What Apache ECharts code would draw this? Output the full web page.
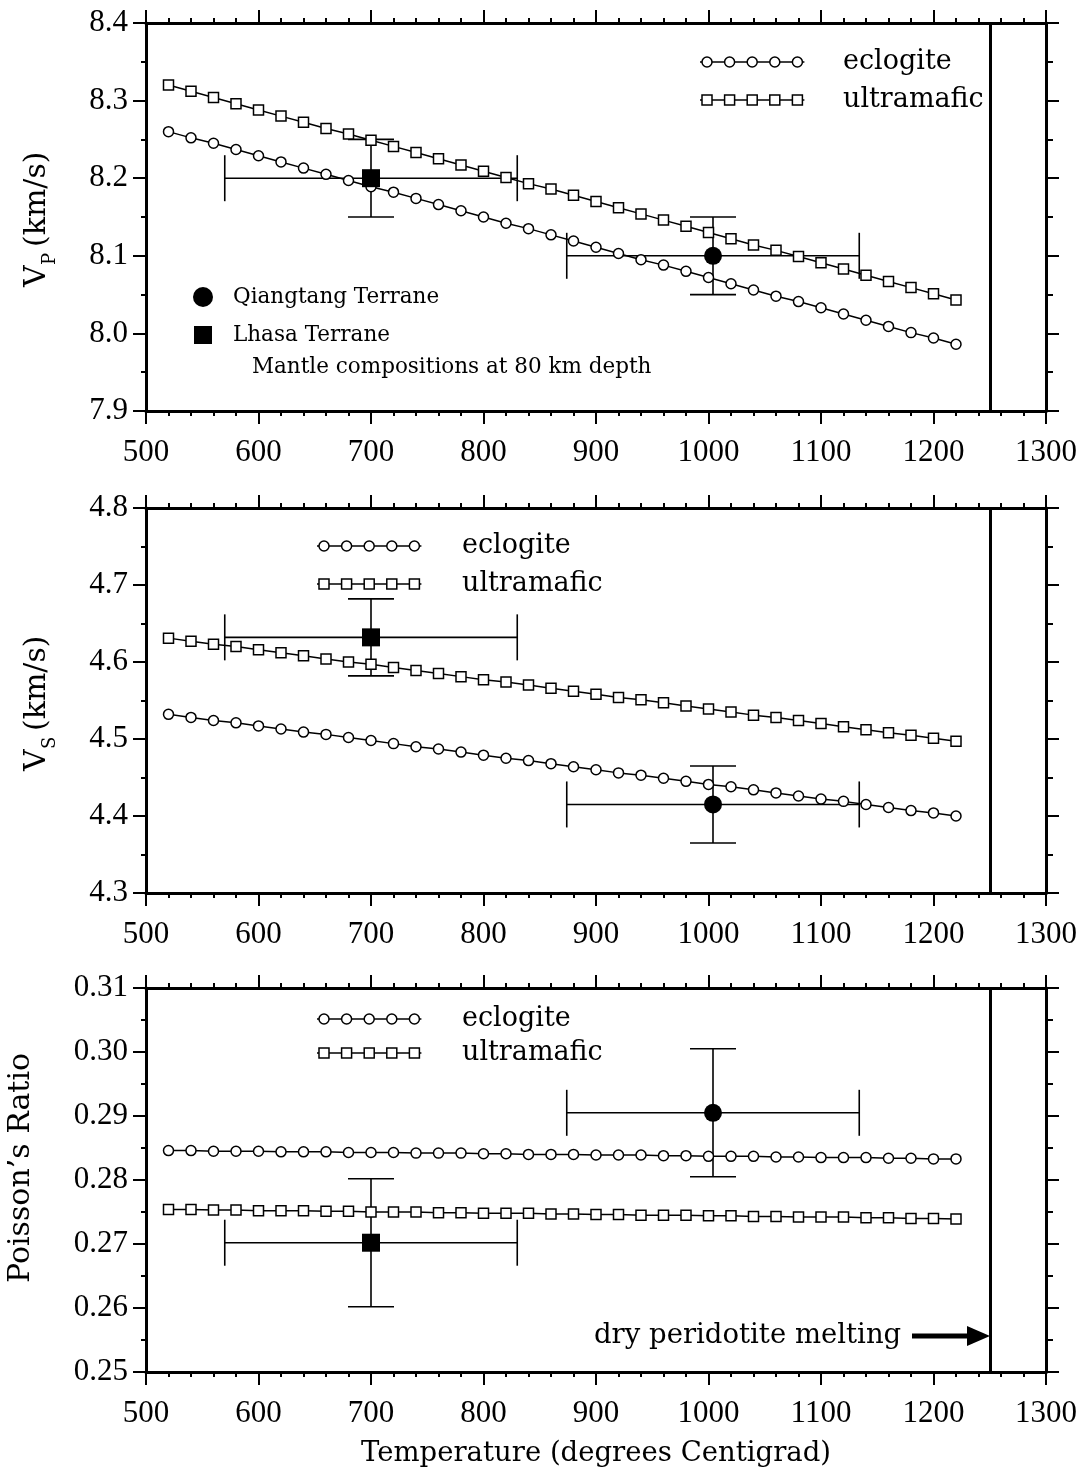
<!DOCTYPE html>
<html>
<head>
<meta charset="utf-8">
<script src="https://cdn.jsdelivr.net/npm/echarts@6/dist/echarts.min.js"></script>
<style>html,body{margin:0;padding:0;background:#fff}#c{width:1086px;height:1475px}</style>
</head>
<body>
<div id="c"></div>
<script>
// ---------------- data ----------------
const temperatures = [520,540,560,580,600,620,640,660,680,700,720,740,760,780,800,820,840,860,880,900,920,940,960,980,1000,1020,1040,1060,1080,1100,1120,1140,1160,1180,1200,1220];

const vpEclogite = [8.260,8.252,8.245,8.237,8.229,8.221,8.213,8.205,8.197,8.189,8.182,8.174,8.166,8.158,8.150,8.142,8.135,8.127,8.119,8.111,8.103,8.095,8.088,8.080,8.072,8.064,8.056,8.048,8.041,8.033,8.025,8.017,8.009,8.001,7.994,7.986];
const vpUltramafic = [8.320,8.312,8.304,8.296,8.288,8.280,8.272,8.264,8.257,8.249,8.241,8.233,8.225,8.217,8.209,8.201,8.193,8.186,8.178,8.170,8.162,8.154,8.146,8.138,8.130,8.122,8.114,8.107,8.099,8.091,8.083,8.075,8.067,8.059,8.051,8.043];

const vsEclogite = [4.532,4.528,4.524,4.521,4.517,4.513,4.509,4.506,4.502,4.498,4.494,4.490,4.487,4.483,4.479,4.475,4.472,4.468,4.464,4.460,4.456,4.453,4.449,4.445,4.441,4.438,4.434,4.430,4.426,4.422,4.419,4.415,4.411,4.407,4.404,4.400];
const vsUltramafic = [4.631,4.627,4.623,4.620,4.616,4.612,4.608,4.604,4.600,4.597,4.593,4.589,4.585,4.581,4.577,4.574,4.570,4.566,4.562,4.558,4.554,4.551,4.547,4.543,4.539,4.535,4.531,4.528,4.524,4.520,4.516,4.512,4.508,4.505,4.501,4.497];

const prEclogite = [0.2846,0.2846,0.2845,0.2845,0.2845,0.2844,0.2844,0.2844,0.2843,0.2843,0.2843,0.2842,0.2842,0.2842,0.2841,0.2841,0.2840,0.2840,0.2840,0.2839,0.2839,0.2839,0.2838,0.2838,0.2837,0.2837,0.2837,0.2836,0.2836,0.2835,0.2835,0.2835,0.2834,0.2834,0.2833,0.2833];
const prUltramafic = [0.2754,0.2754,0.2753,0.2753,0.2752,0.2752,0.2752,0.2751,0.2751,0.2750,0.2750,0.2750,0.2749,0.2749,0.2748,0.2748,0.2748,0.2747,0.2747,0.2746,0.2746,0.2745,0.2745,0.2745,0.2744,0.2744,0.2743,0.2743,0.2742,0.2742,0.2742,0.2741,0.2741,0.2740,0.2740,0.2739];

// observed terranes: [Qiangtang, Lhasa]
const siteNames = ['Qiangtang Terrane', 'Lhasa Terrane'];
const siteT = [1004, 700];
const siteTErr = [130, 130];
const siteVp = [8.10, 8.20];
const siteVpErr = [0.05, 0.05];
const siteVs = [4.415, 4.632];
const siteVsErr = [0.05, 0.05];
const sitePr = [0.2905, 0.2702];
const sitePrErr = [0.01, 0.01];
const siteSymbols = ['circle', 'rect'];

const meltingT = 1250;

const xTicks = {min: 500, max: 1300, interval: 100};
const yRanges = [
  {min: 7.9, max: 8.4, interval: 0.1, dec: 1},
  {min: 4.3, max: 4.8, interval: 0.1, dec: 1},
  {min: 0.25, max: 0.31, interval: 0.01, dec: 2}
];

// ---------------- chart ----------------
const TXT = 'DejaVu Serif';
const NUM = 'Liberation Serif';
const BLACK = '#000';

const gridBoxes = [{top: 23, height: 388}, {top: 508, height: 385}, {top: 988, height: 384}];
const grids = gridBoxes.map(g => ({left: 146, width: 900, top: g.top, height: g.height, containLabel: false, outerBoundsMode: 'none'}));

const xAxes = [], yAxes = [];
gridBoxes.forEach((g, gi) => {
  const common = {
    type: 'value', gridIndex: gi, min: xTicks.min, max: xTicks.max, interval: xTicks.interval,
    splitLine: {show: false}, minorSplitLine: {show: false},
    axisLine: {onZero: false, lineStyle: {color: BLACK, width: 3}},
    axisTick: {inside: false, length: 13, lineStyle: {color: BLACK, width: 2}},
    minorTick: {show: true, splitNumber: 5, length: 5, lineStyle: {color: BLACK, width: 2}}
  };
  const bottom = Object.assign({}, common, {
    position: 'bottom',
    axisLabel: {margin: 26, fontFamily: NUM, fontSize: 31, color: BLACK, formatter: v => String(Math.round(v))}
  });
  if (gi === 2) {
    bottom.name = 'Temperature (degrees Centigrad)';
    bottom.nameLocation = 'middle';
    bottom.nameGap = 82;
    bottom.nameTextStyle = {fontFamily: TXT, fontSize: 27.5, color: BLACK, verticalAlign: 'middle'};
  }
  xAxes.push(bottom);
  xAxes.push(Object.assign({}, common, {position: 'top', axisLabel: {show: false}}));

  const r = yRanges[gi];
  const yc = {
    type: 'value', gridIndex: gi, min: r.min, max: r.max, interval: r.interval,
    splitLine: {show: false}, minorSplitLine: {show: false},
    axisLine: {onZero: false, lineStyle: {color: BLACK, width: 3}},
    axisTick: {inside: false, length: 13, lineStyle: {color: BLACK, width: 2}}
  };
  yAxes.push(Object.assign({}, yc, {
    position: 'left',
    minorTick: {show: true, splitNumber: 2, length: 5, lineStyle: {color: BLACK, width: 2}},
    axisLabel: {margin: 18, fontFamily: NUM, fontSize: 31, color: BLACK, formatter: v => v.toFixed(r.dec)}
  }));
  yAxes.push(Object.assign({}, yc, {
    position: 'right',
    minorTick: {show: true, splitNumber: 2, length: 7, lineStyle: {color: BLACK, width: 2}},
    axisLabel: {show: false}
  }));
});

function zip(vals) { return temperatures.map((t, i) => [t, vals[i]]); }

function errRender(params, api) {
  const x = api.value(0), y = api.value(1), dx = api.value(2), dy = api.value(3);
  const l = api.coord([x - dx, y]), r = api.coord([x + dx, y]);
  const t = api.coord([x, y + dy]), b = api.coord([x, y - dy]);
  const cap = 23;
  const st = {stroke: BLACK, lineWidth: 1.6};
  const ln = (x1, y1, x2, y2) => ({type: 'line', shape: {x1, y1, x2, y2}, style: st});
  return {type: 'group', children: [
    ln(l[0], l[1], r[0], r[1]),
    ln(l[0], l[1] - cap, l[0], l[1] + cap),
    ln(r[0], r[1] - cap, r[0], r[1] + cap),
    ln(t[0], t[1], b[0], b[1]),
    ln(t[0] - cap, t[1], t[0] + cap, t[1]),
    ln(b[0] - cap, b[1], b[0] + cap, b[1])
  ]};
}

const panels = [
  {ecl: vpEclogite, ult: vpUltramafic, obs: siteVp, obsErr: siteVpErr},
  {ecl: vsEclogite, ult: vsUltramafic, obs: siteVs, obsErr: siteVsErr},
  {ecl: prEclogite, ult: prUltramafic, obs: sitePr, obsErr: sitePrErr}
];

const series = [];
panels.forEach((p, gi) => {
  const ax = {xAxisIndex: gi * 2, yAxisIndex: gi * 2};
  series.push(Object.assign({
    type: 'custom', name: 'errors' + gi, renderItem: errRender, clip: false, z: 2, silent: true,
    encode: {x: 0, y: 1},
    data: siteT.map((t, i) => [t, p.obs[i], siteTErr[i], p.obsErr[i]])
  }, ax));
  series.push(Object.assign({
    type: 'line', name: 'eclogite', data: zip(p.ecl), z: 3, silent: true,
    symbol: 'circle', symbolSize: 10, showAllSymbol: true,
    lineStyle: {color: BLACK, width: 1.5},
    itemStyle: {color: '#fff', borderColor: BLACK, borderWidth: 1.5, opacity: 1},
    markLine: {silent: true, symbol: ['none', 'none'], label: {show: false},
      lineStyle: {color: BLACK, width: 3, type: 'solid', opacity: 1}, data: [{xAxis: meltingT}]}
  }, ax));
  series.push(Object.assign({
    type: 'line', name: 'ultramafic', data: zip(p.ult), z: 3, silent: true,
    symbol: 'rect', symbolSize: 10, showAllSymbol: true,
    lineStyle: {color: BLACK, width: 1.5},
    itemStyle: {color: '#fff', borderColor: BLACK, borderWidth: 1.5, opacity: 1}
  }, ax));
  siteT.forEach((t, i) => {
    series.push(Object.assign({
      type: 'scatter', name: siteNames[i], data: [[t, p.obs[i]]], z: 5, silent: true,
      symbol: siteSymbols[i], symbolSize: 18,
      itemStyle: {color: BLACK, opacity: 1}
    }, ax));
  });
});

// ---------------- annotations (legends, titles) ----------------
const graphics = [];
function legendSample(x0, y, kind) {
  const step = 22.6;
  graphics.push({type: 'line', shape: {x1: x0 - 7, y1: y, x2: x0 + 4 * step + 7, y2: y}, style: {stroke: BLACK, lineWidth: 1.5}, z: 10});
  for (let i = 0; i < 5; i++) {
    const cx = x0 + i * step;
    if (kind === 'c') graphics.push({type: 'circle', shape: {cx, cy: y, r: 5}, style: {fill: '#fff', stroke: BLACK, lineWidth: 1.5}, z: 11});
    else graphics.push({type: 'rect', shape: {x: cx - 5, y: y - 5, width: 10, height: 10}, style: {fill: '#fff', stroke: BLACK, lineWidth: 1.5}, z: 11});
  }
}
function label(text, x, y, size, align) {
  graphics.push({type: 'text', x, y, z: 12, style: {text, fontFamily: TXT, fontSize: size, fill: BLACK, align: align || 'left', verticalAlign: 'middle'}});
}
// panel 1 legend
legendSample(707, 62, 'c'); label('eclogite', 843, 62, 27);
legendSample(707, 100, 's'); label('ultramafic', 843, 100, 27);
// panel 2 legend
legendSample(324, 546, 'c'); label('eclogite', 462, 546, 27);
legendSample(324, 584, 's'); label('ultramafic', 462, 584, 27);
// panel 3 legend
legendSample(324, 1019, 'c'); label('eclogite', 462, 1019, 27);
legendSample(324, 1053, 's'); label('ultramafic', 462, 1053, 27);
// terrane key in panel 1
graphics.push({type: 'circle', shape: {cx: 203, cy: 297, r: 10}, style: {fill: BLACK}, z: 11});
graphics.push({type: 'rect', shape: {x: 194, y: 326, width: 18, height: 18}, style: {fill: BLACK}, z: 11});
label(siteNames[0], 233, 297, 21.5);
label(siteNames[1], 233, 335, 21.5);
label('Mantle compositions at 80 km depth', 252, 367, 21.5);
// melting annotation
label('dry peridotite melting', 594, 1336, 27.5);
graphics.push({type: 'rect', shape: {x: 912, y: 1333.5, width: 58, height: 5}, style: {fill: BLACK}, z: 11});
graphics.push({type: 'polygon', shape: {points: [[967, 1326], [990, 1336], [967, 1346]]}, style: {fill: BLACK}, z: 11});

// y-axis titles (rotated, with subscripts)
function vTitle(x, y, sub) {
  graphics.push({type: 'group', x, y, rotation: Math.PI / 2, z: 12, children: [
    {type: 'text', x: 0, y: 0, style: {text: 'V', fontFamily: TXT, fontSize: 30, fill: BLACK, align: 'left', verticalAlign: 'bottom'}},
    {type: 'text', x: 22, y: 7, style: {text: sub, fontFamily: TXT, fontSize: 18, fill: BLACK, align: 'left', verticalAlign: 'bottom'}},
    {type: 'text', x: 40, y: 0, style: {text: '(km/s)', fontFamily: TXT, fontSize: 30, fill: BLACK, align: 'left', verticalAlign: 'bottom'}}
  ]});
}
vTitle(52, 287, 'P');
vTitle(52, 771, 'S');
graphics.push({type: 'text', x: 21, y: 1168, rotation: Math.PI / 2, z: 12,
  style: {text: 'Poisson\u2019s Ratio', fontFamily: TXT, fontSize: 30, fill: BLACK, align: 'center', verticalAlign: 'middle'}});

const chart = echarts.init(document.getElementById('c'), null, {renderer: 'canvas'});
chart.setOption({
  animation: false,
  backgroundColor: '#fff',
  grid: grids,
  xAxis: xAxes,
  yAxis: yAxes,
  series: series,
  graphic: graphics
});
</script>
</body>
</html>
